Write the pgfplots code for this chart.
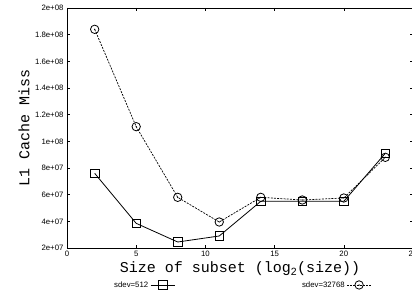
\documentclass[border=0pt]{standalone}
\usepackage{fontspec}
\setmainfont{Liberation Sans}
\newfontfamily\cour{Liberation Mono}
\usepackage{pgfplots}
\pgfplotsset{compat=1.18}
\pgfdeclareplotmark{odot}{%
  \pgfpathcircle{\pgfpointorigin}{\pgfplotmarksize}\pgfusepathqstroke
  \pgfpathcircle{\pgfpointorigin}{0.7pt}\pgfusepathqfill}
\begin{document}
\begin{tikzpicture}
\begin{axis}[
  at={(67pt,46pt)}, anchor=south west,
  scale only axis, width=346pt, height=240pt,
  xmin=0, xmax=25, ymin=2e7, ymax=2e8,
  xtick={0,5,10,15,20,25},
  ytick={2e7,4e7,6e7,8e7,1e8,1.2e8,1.4e8,1.6e8,1.8e8,2e8},
  yticklabels={2e+07,4e+07,6e+07,8e+07,1e+08,1.2e+08,1.4e+08,1.6e+08,1.8e+08,2e+08},
  scaled y ticks=false,
  /pgf/number format/assume math mode=true,
  tick label style={font=\fontsize{7.8}{9}\selectfont},
  tick align=inside, major tick length=3pt,
  axis line style={line width=0.8pt},
  every tick/.style={black, line width=0.6pt},
  xlabel={\cour\fontsize{15}{17}\selectfont Size of subset (log$_{\mathrm{2}}$(size))},
  ylabel={\cour\fontsize{15}{17}\selectfont L1 Cache Miss},
  xlabel style={at={(axis description cs:0.5,-0.104)}, anchor=base},
  ylabel style={at={(axis description cs:-0.124,0.5)}, anchor=center},
  legend columns=2,
  legend plot pos=right,
  legend style={at={(axis description cs:0.130,-0.154)}, anchor=west,
    draw=none, fill=none, font=\fontsize{7.8}{9}\selectfont, inner sep=0pt,
    /tikz/every even column/.append style={column sep=125pt}},
  legend image code/.code={\draw[mark repeat=2,mark phase=2] plot coordinates {(0pt,0pt)(12pt,0pt)(24pt,0pt)};},
]
\addplot[black, line width=0.8pt, mark=square, mark size=4.3pt, mark options={solid, line width=0.8pt}]
 coordinates {(2,7.6e7)(5,3.85e7)(8,2.45e7)(11,2.9e7)(14,5.5e7)(17,5.5e7)(20,5.5e7)(23,9.1e7)};
\addlegendentry{sdev=512}
\addplot[black, line width=0.7pt, dash pattern=on 2pt off 1.2pt, mark=odot, mark size=4.2pt, mark options={solid, line width=0.8pt}]
 coordinates {(2,1.84e8)(5,1.11e8)(8,5.8e7)(11,3.95e7)(14,5.8e7)(17,5.6e7)(20,5.75e7)(23,8.8e7)};
\addlegendentry{sdev=32768}
\end{axis}
\pgfresetboundingbox
\useasboundingbox (0pt,0pt) rectangle (412pt,294pt);
\end{tikzpicture}
\end{document}
